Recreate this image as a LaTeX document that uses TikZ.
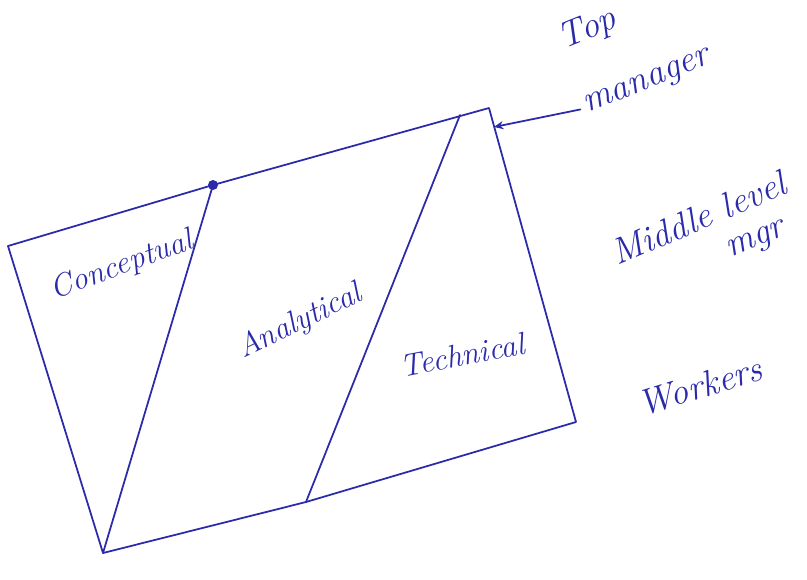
\documentclass[tikz,border=0pt]{standalone}
\usepackage{tikz}
\usetikzlibrary{arrows.meta,positioning}
\definecolor{pen}{RGB}{42,42,170}

\begin{document}
\begin{tikzpicture}[
  x=0.03cm, y=-0.03cm,
  ink/.style={draw=pen, line width=1.5pt, line cap=round, line join=round},
  lbl/.style={text=pen, font=\fontsize{27}{30}\selectfont\itshape, inner sep=1pt},
  big/.style={lbl, font=\fontsize{31}{34}\selectfont\itshape},
  arr/.style={ink, -{Stealth[length=8pt,width=7pt]}}
]
\useasboundingbox (0,0) rectangle (807,579);
% corners of the skill box
\coordinate (tl) at (8,246);
\coordinate (tr) at (489,108);
\coordinate (br) at (576,422);
\coordinate (bl) at (103,553);
% ends of the two dividing lines
\coordinate (cTop) at (213,185);
\coordinate (cBot) at (103,553);
\coordinate (aTop) at (460,115);
\coordinate (aBot) at (306,502);
\coordinate (tmEnd) at (494,127);

\draw[ink] (tl) -- (cTop) -- (tr) -- (br) -- (aBot) -- (bl) -- cycle;
\draw[ink] (cTop) -- (cBot);
\draw[ink] (aTop) -- (aBot);
\fill[pen] (cTop) circle (5);

% skill labels
\node[lbl, rotate=20] (concept) at (122,266) {Conceptual};
\node[lbl, rotate=26] (analyt) at (300,322) {Analytical};
\node[lbl, rotate=11] (techn) at (462,355) {Technical};

% levels
\node[big, rotate=22] (top1) at (588,30) {Top};
\node[big, rotate=22] (top2) at (648,84) {manager};
\node[big, rotate=23] (mid1) at (698,218) {Middle level};
\node[big, rotate=23] (mid2) at (757,242) {mgr};
\node[big, rotate=17] (work) at (700,386) {Workers};

\draw[arr] ([xshift=-4pt]top2.west) -- (tmEnd);
\end{tikzpicture}
\end{document}
